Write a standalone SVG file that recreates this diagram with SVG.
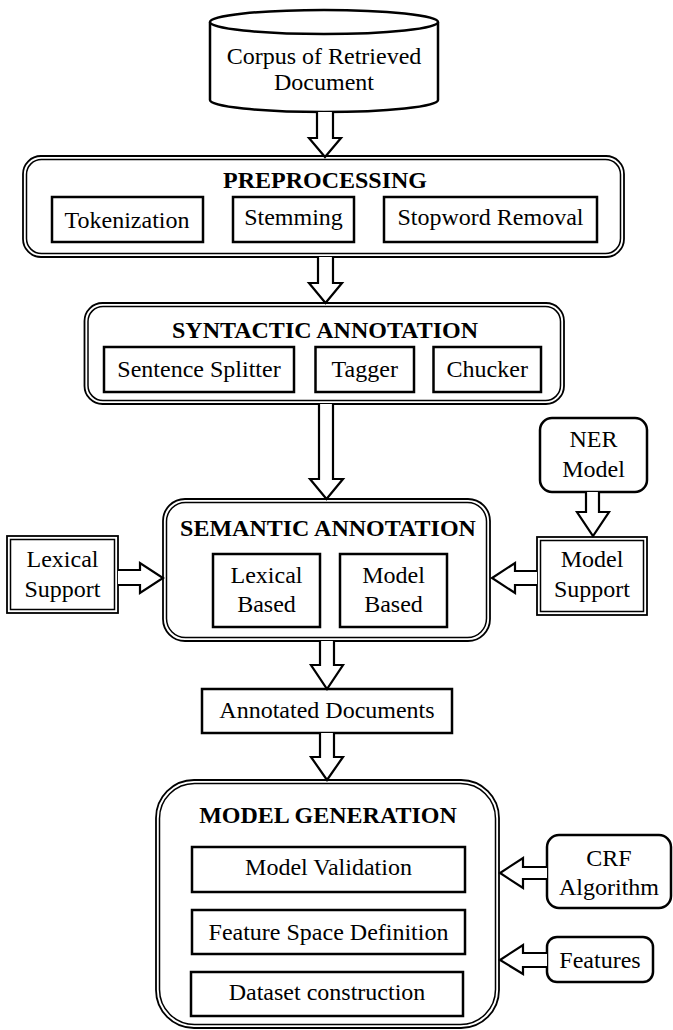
<svg xmlns="http://www.w3.org/2000/svg" width="673" height="1030" viewBox="0 0 673 1030">
<style>
text{font-family:"Liberation Serif","Times New Roman",serif;font-size:24px;fill:#000;text-anchor:middle}
.b{font-weight:bold}
.o{fill:#fff;stroke:#000;stroke-width:1.8}
.i{fill:none;stroke:#000;stroke-width:1.5}
.bx{fill:#fff;stroke:#000;stroke-width:2.5}
.ar{fill:#fff;stroke:#000;stroke-width:2.2;stroke-linejoin:miter}
</style>
<rect width="673" height="1030" fill="#fff"/>

<g id="corpus">
<path class="bx" d="M210,22 L210,100 A114,12 0 0 0 438,100 L438,22"/>
<ellipse class="bx" cx="324" cy="22" rx="114" ry="12"/>
<text x="324" y="64">Corpus of Retrieved</text>
<text x="324" y="90">Document</text>
</g>

<g id="preprocessing">
<rect class="o" x="23" y="156" width="601" height="101" rx="18"/>
<rect class="i" x="26.5" y="159.5" width="594" height="94" rx="15"/>
<text class="b" x="325" y="188">PREPROCESSING</text>
<g id="tokenization"><rect class="bx" x="52" y="197" width="151" height="45"/><text x="127" y="228">Tokenization</text></g>
<g id="stemming"><rect class="bx" x="233" y="197" width="121" height="45"/><text x="293.5" y="225">Stemming</text></g>
<g id="stopword"><rect class="bx" x="384" y="197" width="213" height="45"/><text x="490.5" y="225">Stopword Removal</text></g>
</g>

<g id="syntactic">
<rect class="o" x="84.5" y="303" width="479.5" height="101" rx="18"/>
<rect class="i" x="88" y="306.5" width="472.5" height="94" rx="15"/>
<text class="b" x="325" y="338">SYNTACTIC ANNOTATION</text>
<g id="splitter"><rect class="bx" x="104" y="347" width="190" height="45"/><text x="199" y="377">Sentence Splitter</text></g>
<g id="tagger"><rect class="bx" x="315.5" y="347" width="98.5" height="45"/><text x="364.75" y="377">Tagger</text></g>
<g id="chucker"><rect class="bx" x="433.5" y="347" width="107.5" height="45"/><text x="487.25" y="377">Chucker</text></g>
</g>

<g id="semantic">
<rect class="o" x="163" y="499" width="327" height="142" rx="22"/>
<rect class="i" x="166.5" y="502.5" width="320" height="135" rx="19"/>
<text class="b" x="328" y="536">SEMANTIC ANNOTATION</text>
<g id="lexical-based"><rect class="bx" x="213" y="554" width="107" height="73"/><text x="266.5" y="583">Lexical</text><text x="266.5" y="612">Based</text></g>
<g id="model-based"><rect class="bx" x="340" y="554" width="107" height="73"/><text x="393.5" y="583">Model</text><text x="393.5" y="612">Based</text></g>
</g>

<g id="ner-model">
<rect class="bx" x="540" y="418" width="107" height="74" rx="12"/>
<text x="593.5" y="447">NER</text>
<text x="593.5" y="477">Model</text>
</g>

<g id="model-support">
<rect class="o" x="537" y="537" width="110" height="78"/>
<rect class="i" x="540.5" y="540.5" width="103" height="71"/>
<text x="592" y="567">Model</text>
<text x="592" y="597">Support</text>
</g>

<g id="lexical-support">
<rect class="o" x="7" y="536" width="111" height="77"/>
<rect class="i" x="10.5" y="539.5" width="104" height="70"/>
<text x="62.5" y="567">Lexical</text>
<text x="62.5" y="597">Support</text>
</g>

<g id="annotated">
<rect class="bx" x="202" y="689" width="250" height="44"/>
<text x="327" y="718">Annotated Documents</text>
</g>

<g id="model-generation">
<rect class="o" x="156" y="780" width="343" height="248" rx="38"/>
<rect class="i" x="159.5" y="783.5" width="336" height="241" rx="35"/>
<text class="b" x="328" y="823">MODEL GENERATION</text>
<g id="validation"><rect class="bx" x="192" y="847" width="273" height="45"/><text x="328.5" y="875">Model Validation</text></g>
<g id="feature-space"><rect class="bx" x="192" y="910" width="273" height="44"/><text x="328.5" y="940">Feature Space Definition</text></g>
<g id="dataset"><rect class="bx" x="191" y="972" width="272" height="44"/><text x="327" y="1000">Dataset construction</text></g>
</g>

<g id="crf">
<rect class="bx" x="547" y="835" width="124" height="73" rx="12"/>
<text x="609" y="866">CRF</text>
<text x="609" y="895">Algorithm</text>
</g>

<g id="features">
<rect class="bx" x="547" y="937" width="106" height="45" rx="10"/>
<text x="600" y="968">Features</text>
</g>

<g id="connectors">
<path class="ar" d="M317,112 L317,138 L309,138 L325,157 L341,138 L333,138 L333,112"/>
<path class="ar" d="M318,257 L318,283 L309,283 L325.5,303 L342,283 L333,283 L333,257"/>
<path class="ar" d="M319,404 L319,479 L310,479 L326.5,499 L343,479 L333,479 L333,404"/>
<path class="ar" d="M320,641 L320,665 L311,665 L327,689 L343,665 L334,665 L334,641"/>
<path class="ar" d="M320,733 L320,757 L311,757 L327,780 L343,757 L334,757 L334,733"/>
<path class="ar" d="M586,492 L586,512 L577,512 L593,536 L609,512 L599,512 L599,492"/>
<path class="ar" d="M537,571 L515,571 L515,563 L492,578 L515,593 L515,585 L537,585"/>
<path class="ar" d="M118,570 L140,570 L140,563 L163,578 L140,593 L140,585 L118,585"/>
<path class="ar" d="M547,867 L523,867 L523,858 L500,873 L523,888 L523,879 L547,879"/>
<path class="ar" d="M547,953 L523,953 L523,945 L500,960 L523,974 L523,967 L547,967"/>
</g>
</svg>
